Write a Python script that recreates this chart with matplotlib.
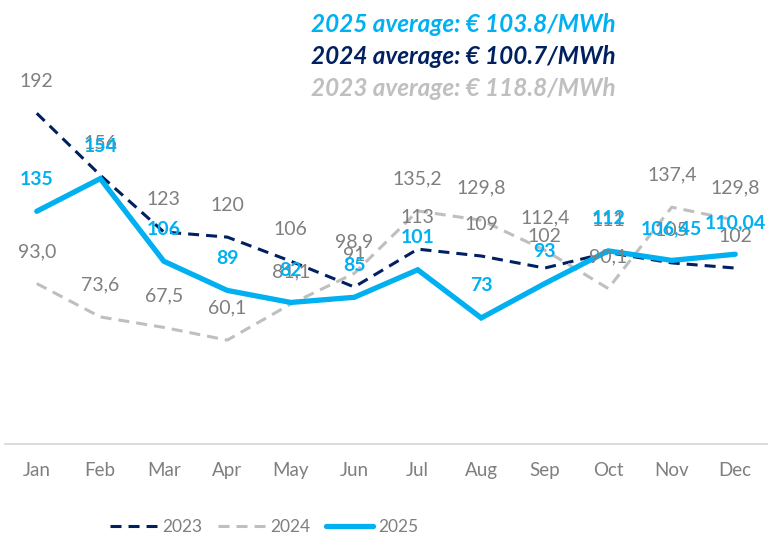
import matplotlib
matplotlib.use("Agg")
import matplotlib.pyplot as plt
from matplotlib.lines import Line2D

plt.rcParams["font.family"] = ["Lato", "DejaVu Sans"]

months = ["Jan", "Feb", "Mar", "Apr", "May", "Jun",
          "Jul", "Aug", "Sep", "Oct", "Nov", "Dec"]

prices_2023 = [192, 156, 123, 120, 106, 91, 113, 109, 102, 111, 105, 102]
prices_2024 = [93.0, 73.6, 67.5, 60.1, 81.1, 98.9, 135.2, 129.8, 112.4, 90.1, 137.4, 129.8]
prices_2025 = [135, 154, 106, 89, 82, 85, 101, 73, 93, 112, 106.45, 110.04]

averages = [("2025", 103.8), ("2024", 100.7), ("2023", 118.8)]

NAVY = "#002060"
LIGHT_GRAY = "#BFBFBF"
SKY = "#00B0F0"
TEXT_GRAY = "#7F7F7F"


def fmt_2023(v):
    return f"{v:.0f}"


def fmt_2024(v):
    return f"{v:.1f}".replace(".", ",")


def fmt_2025(v):
    if float(v).is_integer():
        return f"{v:.0f}"
    return f"{v:.2f}".replace(".", ",")


fig = plt.figure(figsize=(7.78, 5.42), dpi=100)
W, H = 778, 542
ax = fig.add_axes([5 / W, (H - 443.5) / H, 762 / W, 430 / H])

x = list(range(len(months)))
dash = (0, (3.6, 2.3))

ax.plot(x, prices_2023, color=NAVY, lw=2.2, ls=dash, zorder=2)
ax.plot(x, prices_2024, color=LIGHT_GRAY, lw=2.2, ls=dash, zorder=2)
ax.plot(x, prices_2025, color=SKY, lw=3.8, solid_capstyle="round",
        solid_joinstyle="miter", zorder=3)

label_offset = 23
for vals, fmt, color, weight in [
    (prices_2023, fmt_2023, TEXT_GRAY, "normal"),
    (prices_2024, fmt_2024, TEXT_GRAY, "normal"),
    (prices_2025, fmt_2025, SKY, "bold"),
]:
    for xi, v in zip(x, vals):
        ax.annotate(fmt(v), (xi, v), xytext=(0, label_offset),
                    textcoords="offset points", ha="center", va="center",
                    fontsize=14, color=color, fontweight=weight, zorder=5)

ax.set_xlim(-0.5, 11.5)
ax.set_ylim(0, 250)
ax.set_xticks(x)
ax.set_xticklabels(months, fontsize=13.5, color=TEXT_GRAY)
ax.set_yticks([])
for side in ["left", "right", "top"]:
    ax.spines[side].set_visible(False)
ax.spines["bottom"].set_color("#D9D9D9")
ax.spines["bottom"].set_linewidth(1.3)
ax.tick_params(axis="x", length=0, pad=13)
ax.patch.set_alpha(0)

avg_colors = {"2025": SKY, "2024": NAVY, "2023": LIGHT_GRAY}
for i, (yr, avg) in enumerate(averages):
    fig.text(616 / W, 1 - (25 + 32 * i) / H,
             f"{yr} average: € {avg:.1f}/MWh",
             ha="right", va="center", fontsize=17.5, fontweight="bold",
             fontstyle="italic", color=avg_colors[yr])

handles = [
    Line2D([], [], color=NAVY, lw=2.2, ls=dash),
    Line2D([], [], color=LIGHT_GRAY, lw=2.2, ls=dash),
    Line2D([], [], color=SKY, lw=3.8, solid_capstyle="round"),
]
leg = fig.legend(handles, ["2023", "2024", "2025"], loc="center",
                 bbox_to_anchor=(264 / W, 1 - 527 / H), ncol=3, frameon=False,
                 fontsize=12.5, handlelength=2.7, handletextpad=0.3,
                 columnspacing=0.9)
for t in leg.get_texts():
    t.set_color(TEXT_GRAY)

fig.savefig("out.png", dpi=100)
